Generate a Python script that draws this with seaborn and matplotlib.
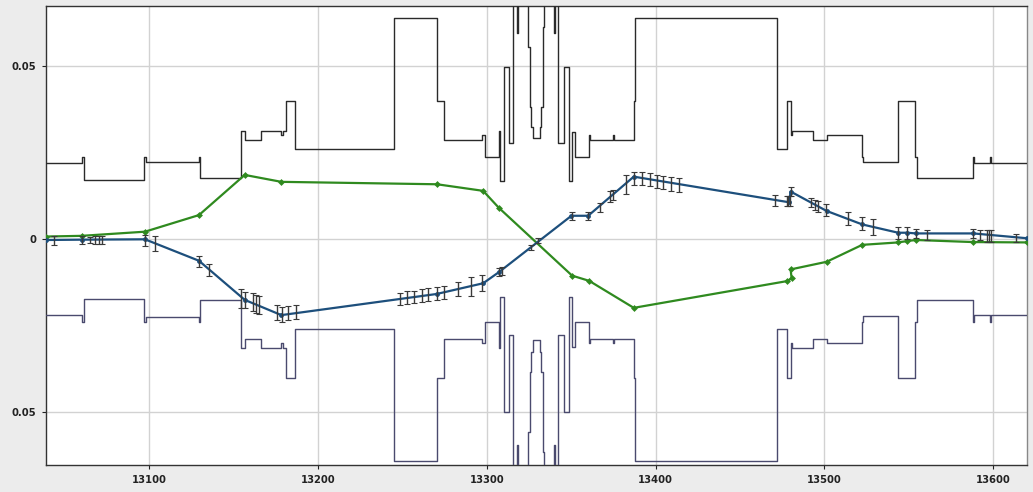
import numpy as np
import pandas as pd
import matplotlib
matplotlib.use("Agg")
import matplotlib.pyplot as plt
import seaborn as sns

# ---------------- data ----------------
# aperture half width (step function, value holds from x to next x)
aperture_x = [13035.0, 13060.1, 13061.3, 13097.0, 13098.2, 13129.4, 13130.2, 13154.5,
              13157.1, 13166.6, 13178.0, 13179.2, 13181.4, 13186.3, 13245.0, 13270.6,
              13274.8, 13297.5, 13298.9, 13307.3, 13307.9, 13310.3, 13313.1, 13315.5,
              13317.9, 13318.6, 13324.5, 13325.5, 13326.5, 13327.4, 13331.4, 13332.4,
              13333.4, 13334.1, 13339.9, 13340.5, 13342.3, 13345.7, 13348.5, 13350.4,
              13352.2, 13360.7, 13361.3, 13374.9, 13375.5, 13387.1, 13387.9, 13471.7,
              13477.6, 13480.0, 13480.6, 13493.0, 13501.3, 13522.4, 13523.0, 13543.7,
              13553.8, 13554.6, 13587.8, 13588.6, 13598.0, 13598.6, 13625.0]
aperture_half = [0.0220, 0.0239, 0.0171, 0.0239, 0.0224, 0.0239, 0.0176, 0.0314,
                 0.0287, 0.0313, 0.0300, 0.0313, 0.0400, 0.0260, 0.0639, 0.0400,
                 0.0287, 0.0300, 0.0239, 0.0313, 0.0168, 0.0499, 0.0277, 0.0800,
                 0.0595, 0.0800, 0.0557, 0.0383, 0.0325, 0.0292, 0.0325, 0.0383,
                 0.0614, 0.0800, 0.0595, 0.0800, 0.0277, 0.0499, 0.0168, 0.0311,
                 0.0239, 0.0300, 0.0287, 0.0300, 0.0287, 0.0400, 0.0639, 0.0260,
                 0.0400, 0.0300, 0.0313, 0.0287, 0.0300, 0.0239, 0.0222, 0.0400,
                 0.0239, 0.0176, 0.0239, 0.0220, 0.0239, 0.0220, 0.0220]

# model orbit (blue) and second orbit (green)
blue_x = [13039.2, 13060.3, 13097.6, 13129.6, 13156.7, 13178.4, 13270.3, 13297.9,
          13307.2, 13350.2, 13360.1, 13387.1, 13479.1, 13480.0, 13501.3, 13522.4,
          13543.7, 13549.1, 13554.2, 13588.2, 13620.1]
blue_y = [-0.0002, -0.0001, 0.0000, -0.0062, -0.0175, -0.0219, -0.0158, -0.0127,
          -0.0095, 0.0068, 0.0068, 0.0181, 0.0107, 0.0138, 0.0082, 0.0043,
          0.0019, 0.0019, 0.0017, 0.0017, 0.0003]

green_x = [13038.8, 13060.1, 13097.6, 13129.6, 13156.7, 13178.4, 13270.6, 13297.9,
           13307.2, 13350.6, 13360.7, 13387.1, 13477.6, 13480.6, 13480.0, 13501.3,
           13522.4, 13543.7, 13549.1, 13554.2, 13588.2, 13620.1]
green_y = [0.0008, 0.0010, 0.0022, 0.0070, 0.0186, 0.0166, 0.0159, 0.0140,
           0.0091, -0.0105, -0.0120, -0.0198, -0.0121, -0.0113, -0.0087, -0.0065,
           -0.0016, -0.0009, -0.0005, -0.0002, -0.0008, -0.0009]

# measurements with error bars
meas_x = [13043.7, 13060.3, 13064.9, 13067.8, 13070.4, 13072.4, 13097.6, 13103.6,
          13129.6, 13135.5, 13154.5, 13156.7, 13161.6, 13163.6, 13165.2, 13175.8,
          13179.0, 13182.3, 13187.3, 13248.5, 13252.8, 13256.8, 13261.4, 13265.3,
          13270.3, 13274.6, 13283.1, 13291.0, 13297.5, 13307.3, 13309.1, 13326.5,
          13330.5, 13350.8, 13360.1, 13367.0, 13372.9, 13374.9, 13382.8, 13387.1,
          13392.1, 13396.6, 13400.6, 13404.5, 13409.1, 13413.8, 13470.7, 13477.6,
          13478.6, 13479.6, 13480.0, 13491.8, 13494.4, 13496.3, 13500.9, 13514.1,
          13522.4, 13528.9, 13543.7, 13549.1, 13554.2, 13560.6, 13588.2, 13592.1,
          13596.1, 13597.4, 13598.5, 13613.3]
meas_y = [-0.0003, -0.0002, -0.0002, -0.0002, -0.0002, -0.0002, -0.0003, -0.0011,
          -0.0063, -0.0089, -0.0170, -0.0175, -0.0181, -0.0186, -0.0189, -0.0212,
          -0.0217, -0.0213, -0.0211, -0.0172, -0.0168, -0.0166, -0.0162, -0.0159,
          -0.0157, -0.0154, -0.0144, -0.0136, -0.0126, -0.0095, -0.0092, -0.0023,
          -0.0004, 0.0068, 0.0068, 0.0092, 0.0125, 0.0128, 0.0159, 0.0176,
          0.0176, 0.0172, 0.0167, 0.0164, 0.0160, 0.0157, 0.0112, 0.0110,
          0.0110, 0.0110, 0.0138, 0.0106, 0.0100, 0.0096, 0.0084, 0.0060,
          0.0046, 0.0035, 0.0019, 0.0019, 0.0017, 0.0013, 0.0017, 0.0012,
          0.0009, 0.0009, 0.0009, 0.0004]
meas_err = [0.0014, 0.0012, 0.0010, 0.0012, 0.0012, 0.0012, 0.0015, 0.0022,
            0.0016, 0.0018, 0.0027, 0.0023, 0.0026, 0.0026, 0.0026, 0.0022,
            0.0022, 0.0020, 0.0020, 0.0018, 0.0018, 0.0018, 0.0018, 0.0018,
            0.0018, 0.0019, 0.0020, 0.0027, 0.0022, 0.0012, 0.0012, 0.0008,
            0.0008, 0.0012, 0.0012, 0.0013, 0.0016, 0.0015, 0.0027, 0.0018,
            0.0019, 0.0019, 0.0019, 0.0019, 0.0019, 0.0019, 0.0016, 0.0015,
            0.0015, 0.0015, 0.0014, 0.0014, 0.0015, 0.0016, 0.0018, 0.0018,
            0.0018, 0.0023, 0.0017, 0.0018, 0.0012, 0.0014, 0.0014, 0.0014,
            0.0017, 0.0017, 0.0017, 0.0011]

x_ticks = [13100, 13200, 13300, 13400, 13500, 13600]
x_tick_labels = ["13100", "13200", "13300", "13400", "13500", "13600"]
y_ticks = [0.05, 0.0, -0.05]
y_tick_labels = ["0.05", "0", "0.05"]

# ---------------- plot ----------------
sns.set_style("white")
plt.rcParams['font.family'] = ['DejaVu Sans']

fig = plt.figure(figsize=(10.33, 4.92), dpi=100, facecolor="#ececec")
ax = fig.add_axes([46 / 1033, 27 / 492, 981 / 1033, 459 / 492])
ax.set_facecolor("white")

ap = pd.DataFrame({"x": aperture_x, "upper": aperture_half,
                   "lower": [-v for v in aperture_half]})
sns.lineplot(data=ap, x="x", y="upper", ax=ax, estimator=None, sort=False,
             drawstyle="steps-post", color="#2a2a2a", linewidth=1.0, zorder=3)
sns.lineplot(data=ap, x="x", y="lower", ax=ax, estimator=None, sort=False,
             drawstyle="steps-post", color="#4a4a6e", linewidth=1.0, zorder=3)

bl = pd.DataFrame({"x": blue_x, "y": blue_y})
gr = pd.DataFrame({"x": green_x, "y": green_y})
sns.lineplot(data=gr, x="x", y="y", ax=ax, estimator=None, sort=False,
             color="#2f8a1f", linewidth=1.6, marker="D", markersize=3.5,
             markeredgewidth=0, zorder=4)
sns.lineplot(data=bl, x="x", y="y", ax=ax, estimator=None, sort=False,
             color="#1d4f7c", linewidth=1.6, marker="o", markersize=3.5,
             markeredgewidth=0, zorder=5)

ax.errorbar(meas_x, meas_y, yerr=meas_err, fmt="none", ecolor="#3a3a3a",
            elinewidth=1.0, capsize=2.2, capthick=0.8, zorder=6)

ax.set_xlim(13039, 13620)
ax.set_ylim(-0.0652, 0.0674)
ax.set_xticks(x_ticks)
ax.set_xticklabels(x_tick_labels)
ax.set_yticks(y_ticks)
ax.set_yticklabels(y_tick_labels)
ax.set_xlabel("")
ax.set_ylabel("")
ax.grid(True, color="#d2d2d2", linewidth=1.0)
ax.set_axisbelow(True)
ax.tick_params(axis="both", which="major", direction="out", length=3, width=0.8,
               labelsize=7.2, colors="#222222", pad=4, left=True, bottom=True)
for lab in ax.get_xticklabels() + ax.get_yticklabels():
    lab.set_fontweight("bold")
for side in ["left", "bottom", "top"]:
    ax.spines[side].set_color("#333333")
    ax.spines[side].set_linewidth(1.0)
ax.spines["right"].set_color("#888888")
ax.spines["right"].set_linewidth(1.0)

fig.savefig("out.png", dpi=100, facecolor=fig.get_facecolor())
